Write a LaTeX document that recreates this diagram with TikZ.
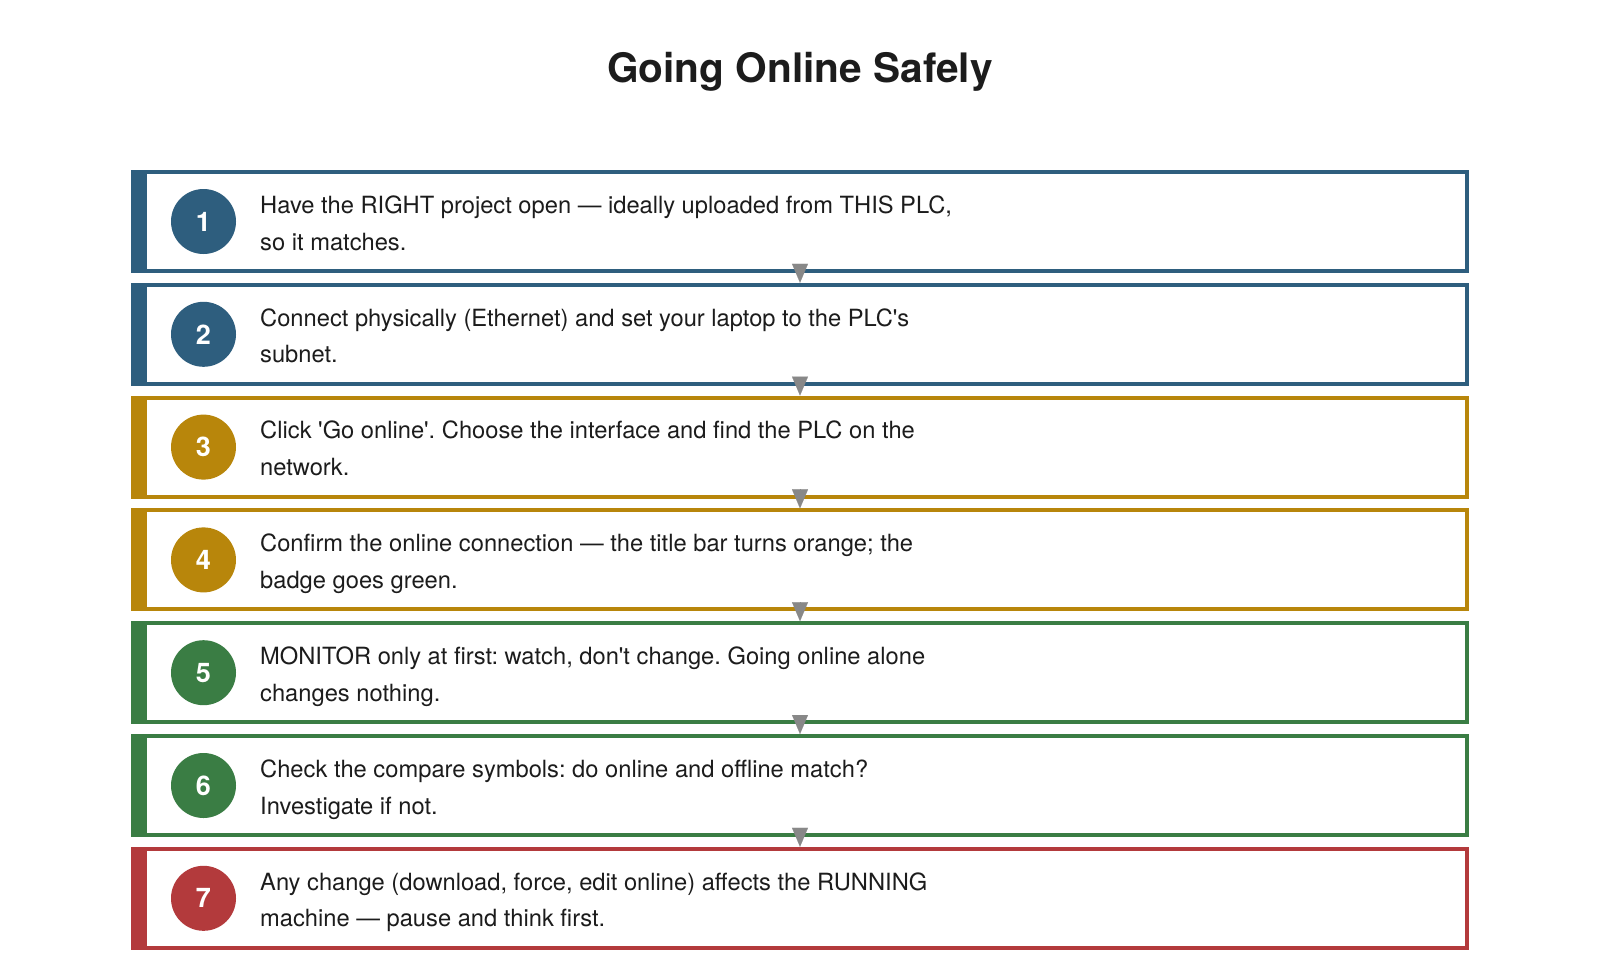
\documentclass[tikz,border=0pt]{standalone}
\usepackage{fontspec}
\setmainfont{TeX Gyre Heros}
\usetikzlibrary{arrows.meta,calc}
\definecolor{cblue}{HTML}{2E5E7E}
\definecolor{cgold}{HTML}{B8860B}
\definecolor{cgreen}{HTML}{3A7D44}
\definecolor{cred}{HTML}{B33A3C}
\definecolor{textc}{HTML}{1C1C1C}
\definecolor{arrowgray}{HTML}{888888}
\frenchspacing
\begin{document}
\begin{tikzpicture}[x=1pt,y=-1pt,
  stepbox/.style={draw=#1, line width=4pt, minimum width=1334pt, minimum height=99pt, inner sep=0pt, fill=white},
  badge/.style={circle, fill=#1, minimum size=65pt, inner sep=0pt, text=white, font=\bfseries\fontsize{27}{30}\selectfont},
  steptext/.style={anchor=west, align=left, inner sep=0pt, text=textc, font=\fontsize{23.7}{36.8}\selectfont},
  flow/.style={draw=arrowgray, line width=0.1pt, -{Triangle[length=19pt,width=16pt,color=arrowgray,fill=arrowgray]}},
  titletext/.style={anchor=base, inner sep=0pt, text=textc, font=\bfseries\fontsize{40.6}{48}\selectfont}]
\useasboundingbox (0,0) rectangle (1600,964);
\node[titletext] (title) at (800,82.3) {Going Online Safely};
% boxes
\node[stepbox=cblue]  (b1) at (800,221.5) {};
\node[stepbox=cblue]  (b2) at (800,334.3) {};
\node[stepbox=cgold]  (b3) at (800,447.1) {};
\node[stepbox=cgold]  (b4) at (800,559.9) {};
\node[stepbox=cgreen] (b5) at (800,672.7) {};
\node[stepbox=cgreen] (b6) at (800,785.5) {};
\node[stepbox=cred]   (b7) at (800,898.3) {};
% side bars
\fill[cblue]  (b1.north west) rectangle ([xshift=16pt]b1.south west);
\fill[cblue]  (b2.north west) rectangle ([xshift=16pt]b2.south west);
\fill[cgold]  (b3.north west) rectangle ([xshift=16pt]b3.south west);
\fill[cgold]  (b4.north west) rectangle ([xshift=16pt]b4.south west);
\fill[cgreen] (b5.north west) rectangle ([xshift=16pt]b5.south west);
\fill[cgreen] (b6.north west) rectangle ([xshift=16pt]b6.south west);
\fill[cred]   (b7.north west) rectangle ([xshift=16pt]b7.south west);
% badges
\node[badge=cblue]  (n1) at (203.5,221.5) {1};
\node[badge=cblue]  (n2) at (203.5,334.3) {2};
\node[badge=cgold]  (n3) at (203.5,447.1) {3};
\node[badge=cgold]  (n4) at (203.5,559.9) {4};
\node[badge=cgreen] (n5) at (203.5,672.7) {5};
\node[badge=cgreen] (n6) at (203.5,785.5) {6};
\node[badge=cred]   (n7) at (203.5,898.3) {7};
% texts
\node[steptext] (t1) at (260,224.3) {\strut Have the RIGHT project open — ideally uploaded from THIS PLC,\strut\\\strut so it matches.\strut};
\node[steptext] (t2) at (260,337.1) {\strut Connect physically (Ethernet) and set your laptop to the PLC\textquotesingle s\strut\\\strut subnet.\strut};
\node[steptext] (t3) at (260,449.9) {\strut Click \textquotesingle Go online\textquotesingle. Choose the interface and find the PLC on the\strut\\\strut network.\strut};
\node[steptext] (t4) at (260,562.7) {\strut Confirm the online connection — the title bar turns orange; the\strut\\\strut badge goes green.\strut};
\node[steptext] (t5) at (260,675.5) {\strut MONITOR only at first: watch, don\textquotesingle t change. Going online alone\strut\\\strut changes nothing.\strut};
\node[steptext] (t6) at (260,788.3) {\strut Check the compare symbols: do online and offline match?\strut\\\strut Investigate if not.\strut};
\node[steptext] (t7) at (260,901.1) {\strut Any change (download, force, edit online) affects the RUNNING\strut\\\strut machine — pause and think first.\strut};
% connectors
\draw[flow] ($(b1.south)+(0,-9)$) -- (b2.north);
\draw[flow] ($(b2.south)+(0,-9)$) -- (b3.north);
\draw[flow] ($(b3.south)+(0,-9)$) -- (b4.north);
\draw[flow] ($(b4.south)+(0,-9)$) -- (b5.north);
\draw[flow] ($(b5.south)+(0,-9)$) -- (b6.north);
\draw[flow] ($(b6.south)+(0,-9)$) -- (b7.north);
\end{tikzpicture}
\end{document}
